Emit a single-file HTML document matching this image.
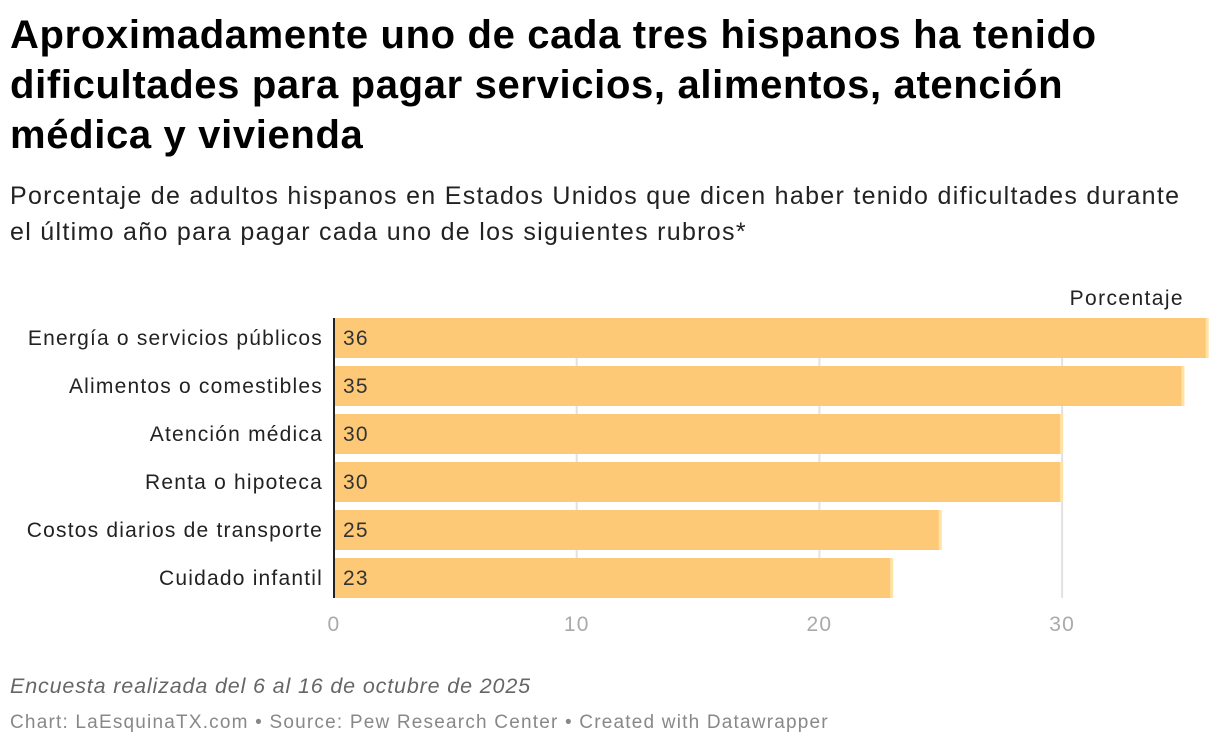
<!DOCTYPE html>
<html><head><meta charset="utf-8">
<style>
body{margin:0;background:#fff;width:1220px;height:748px;overflow:hidden;font-family:"Liberation Sans",sans-serif;}
#title{position:absolute;left:10px;top:10px;font-size:40px;font-weight:bold;line-height:50px;color:#000;width:1210px;letter-spacing:0.65px;white-space:nowrap}
#sub{position:absolute;left:10px;top:178px;font-size:25px;line-height:36px;color:#222;width:1210px;letter-spacing:1.3px;white-space:nowrap}
#note{position:absolute;left:10px;top:674px;font-size:21.5px;font-style:italic;color:#666;letter-spacing:0.85px}
#src{position:absolute;left:10px;top:712px;font-size:19px;color:#888;letter-spacing:1.2px}
svg{position:absolute;left:0;top:0}
</style></head><body>
<div id="title">Aproximadamente uno de cada tres hispanos ha tenido<br>dificultades para pagar servicios, alimentos, atención<br>médica y vivienda</div>
<div id="sub">Porcentaje de adultos hispanos en Estados Unidos que dicen haber tenido dificultades durante<br>el último año para pagar cada uno de los siguientes rubros*</div>
<svg id="chart" width="1220" height="748"></svg>
<div id="note">Encuesta realizada del 6 al 16 de octubre de 2025</div>
<div id="src">Chart: LaEsquinaTX.com • Source: Pew Research Center • Created with Datawrapper</div>
<script>
const categories=["Energía o servicios públicos","Alimentos o comestibles","Atención médica","Renta o hipoteca","Costos diarios de transporte","Cuidado infantil"];
const values=[36,35,30,30,25,23];
const ticks=[0,10,20,30];
const svg=document.getElementById('chart');
const NS='http://www.w3.org/2000/svg';
const x0=334,scale=24.27,top0=318,pitch=48,bh=40;
const X=v=>x0+v*scale;
const Y=i=>top0+i*pitch;
const FF='Liberation Sans, sans-serif';
function mk(t,a){const e=document.createElementNS(NS,t);for(const k in a)e.setAttribute(k,a[k]);svg.appendChild(e);return e;}
ticks.forEach(t=>{
 if(t>0){const g=mk('line',{x1:X(t),x2:X(t),y1:top0,y2:Y(categories.length-1)+bh,stroke:'#e2e2e2','stroke-width':2});
 
 }
 const l=mk('text',{x:X(t),y:631,'text-anchor':'middle','font-size':21,fill:'#aaa','font-family':FF,'letter-spacing':1.2});
 l.textContent=t;
 
 
});
const h=mk('text',{x:1184,y:305,'text-anchor':'end','font-size':21,fill:'#222','font-family':FF,'letter-spacing':1.4});
h.textContent='Porcentaje';


categories.forEach((c,i)=>{
 const y=Y(i);
 const r=mk('rect',{x:x0+1,y:y,width:X(values[i])-x0-1,height:bh,fill:'#fdc977'});
 
 
 const cap=mk('rect',{x:X(values[i])-2,y:y,width:3,height:bh,fill:'#ffe3a6'});
 
 
 const lb=mk('text',{x:323,y:y+27,'text-anchor':'end','font-size':21,fill:'#222','font-family':FF,'letter-spacing':1.2});
 lb.textContent=c;
 
 
 const v=mk('text',{x:343,y:y+27,'font-size':21,fill:'#333','font-family':FF,'letter-spacing':1.2});
 v.textContent=values[i];
 
 
});
const ax=mk('line',{x1:x0,x2:x0,y1:top0,y2:Y(categories.length-1)+bh,stroke:'#222','stroke-width':2});


</script>
</body></html>
